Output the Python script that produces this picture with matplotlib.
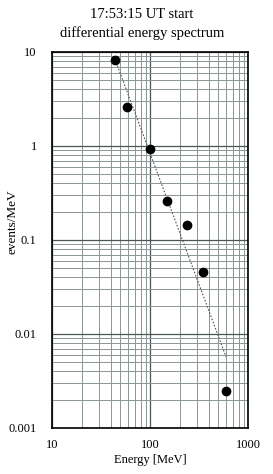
import numpy as np
import matplotlib
matplotlib.use("Agg")
import matplotlib.pyplot as plt
from matplotlib.ticker import FixedLocator, FixedFormatter, NullFormatter

energy = [44, 58, 99, 149, 239, 345, 597]
events = [8.2, 2.6, 0.93, 0.26, 0.145, 0.046, 0.0025]
x_ticks = [10, 100, 1000]
x_labels = ["10", "100", "1000"]
y_ticks = [0.001, 0.01, 0.1, 1, 10]
y_labels = ["0.001", "0.01", "0.1", "1", "10"]

plt.rcParams['font.family'] = ['Liberation Serif', 'DejaVu Serif']

fig = plt.figure(figsize=(2.73, 4.74), dpi=100)
ax = fig.add_axes([52/273, 1 - 428/474, 196/273, 376/474])

ax.set_xscale('log')
ax.set_yscale('log')
ax.set_xlim(10, 1000)
ax.set_ylim(0.001, 10)

ax.xaxis.set_major_locator(FixedLocator(x_ticks))
ax.xaxis.set_major_formatter(FixedFormatter(x_labels))
ax.yaxis.set_major_locator(FixedLocator(y_ticks))
ax.yaxis.set_major_formatter(FixedFormatter(y_labels))
minor_x = [m * d for d in [10, 100] for m in range(2, 10)]
minor_y = [m * d for d in [0.001, 0.01, 0.1, 1] for m in range(2, 10)]
ax.xaxis.set_minor_locator(FixedLocator(minor_x))
ax.yaxis.set_minor_locator(FixedLocator(minor_y))
ax.xaxis.set_minor_formatter(NullFormatter())
ax.yaxis.set_minor_formatter(NullFormatter())
ax.grid(True, which='major', color='#4a5656', linewidth=0.9)
ax.grid(True, which='minor', color='#8a9696', linewidth=0.7)
ax.set_axisbelow(True)
ax.tick_params(which='both', length=0, labelsize=9)
ax.tick_params(axis='y', pad=11)
ax.tick_params(axis='x', pad=8)

# trendline (power-law fit)
lx, ly = np.log10(energy), np.log10(events)
k, b = np.polyfit(lx, ly, 1)
xf = np.array([min(energy), max(energy)])
ax.plot(xf, 10 ** (b + k * np.log10(xf)), linestyle=(0, (1.5, 1.5)), color='#555555', linewidth=0.8, zorder=2)

ax.plot(energy, events, 'o', color='black', markersize=6, zorder=3)

for s in ax.spines.values():
    s.set_color('black')
    s.set_linewidth(1.2)

ax.set_xlabel('Energy [MeV]', fontsize=9)
ax.set_ylabel('events/MeV', fontsize=9.5)
ax.xaxis.set_label_coords(0.5, -(460 - 428) / 376)
ax.yaxis.set_label_coords(-(52 - 13) / 196, (428 - 222) / 376)
ax.yaxis.label.set_va('center')
ax.xaxis.label.set_va('center')
fig.text(0.52, 1 - 14/474, '17:53:15 UT start', ha='center', va='center', fontsize=10.5)
fig.text(0.52, 1 - 33/474, 'differential energy spectrum', ha='center', va='center', fontsize=10.5)

fig.savefig('out.png', dpi=100)
